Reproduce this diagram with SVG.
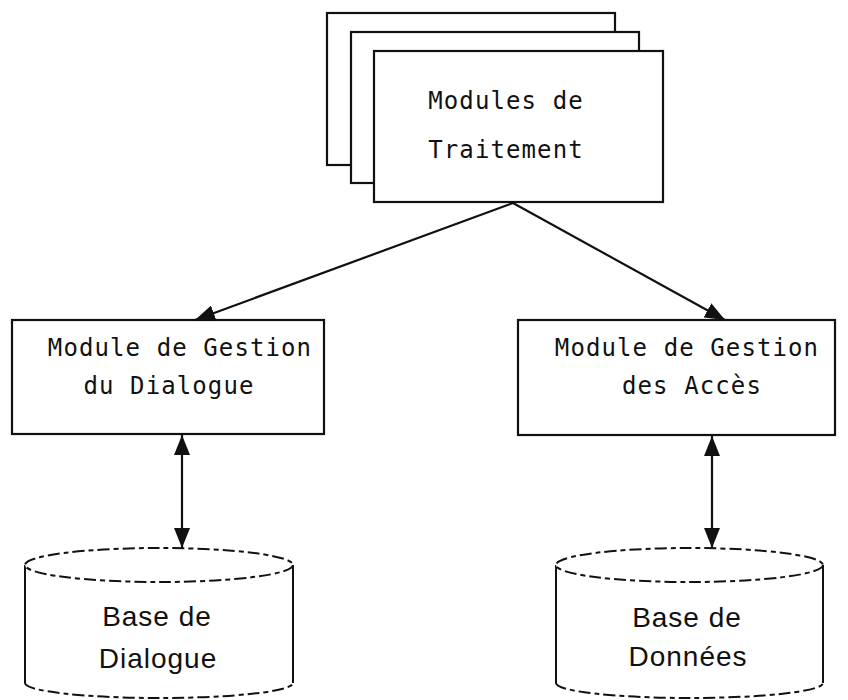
<svg xmlns="http://www.w3.org/2000/svg" width="848" height="700" viewBox="0 0 848 700">
<style>
.box{fill:#fff;stroke:#111;stroke-width:2.2}
.mono{font-family:"DejaVu Sans Mono","Liberation Mono",monospace;font-size:24px;letter-spacing:1.1px;fill:#111;text-anchor:middle}
.sans{font-family:"Liberation Sans","DejaVu Sans",sans-serif;font-size:28px;fill:#111;text-anchor:middle;letter-spacing:1px}
.dash{fill:#fff;stroke:#111;stroke-width:2;stroke-dasharray:12 4 5 4}
.side{fill:none;stroke:#111;stroke-width:2}
.conn{fill:none;stroke:#111;stroke-width:2.2}
</style>
<defs>
<marker id="ah" viewBox="0 0 20 16" refX="20" refY="8" markerWidth="20" markerHeight="16" markerUnits="userSpaceOnUse" orient="auto-start-reverse">
<path d="M0,0 L20,8 L0,16 Z" fill="#111"/>
</marker>
</defs>
<rect width="848" height="700" fill="#fff"/>
<g id="modules-traitement">
<rect class="box" x="327" y="13" width="288" height="152"/>
<rect class="box" x="351" y="32" width="288" height="151"/>
<rect class="box" x="374" y="51" width="289" height="151"/>
<text class="mono" x="506" y="109">Modules de</text>
<text class="mono" x="506" y="158">Traitement</text>
</g>
<g id="gestion-dialogue">
<rect class="box" x="12" y="320" width="312" height="114"/>
<text class="mono" x="180" y="356">Module de Gestion</text>
<text class="mono" x="169" y="394">du Dialogue</text>
</g>
<g id="gestion-acces">
<rect class="box" x="518" y="320" width="317" height="115"/>
<text class="mono" x="687" y="356">Module de Gestion</text>
<text class="mono" x="692" y="394">des Accès</text>
</g>
<g id="base-dialogue">
<path class="side" d="M25,565 L25,683 M293,565 L293,683"/>
<path class="dash" d="M25,683 A134,15 0 0 0 293,683" style="fill:none"/>
<ellipse class="dash" cx="159" cy="565" rx="134" ry="17"/>
<text class="sans" x="157" y="626">Base de</text>
<text class="sans" x="158" y="668">Dialogue</text>
</g>
<g id="base-donnees">
<path class="side" d="M556,565 L556,683 M823,565 L823,683"/>
<path class="dash" d="M556,683 A133.5,15 0 0 0 823,683" style="fill:none"/>
<ellipse class="dash" cx="689.5" cy="565" rx="133.5" ry="17"/>
<text class="sans" x="687" y="627">Base de</text>
<text class="sans" x="688" y="666">Données</text>
</g>
<g id="connectors">
<line class="conn" x1="513" y1="203" x2="195" y2="320" marker-end="url(#ah)"/>
<line class="conn" x1="513" y1="203" x2="725" y2="320" marker-end="url(#ah)"/>
<line class="conn" x1="182" y1="435" x2="182" y2="548" marker-start="url(#ah)" marker-end="url(#ah)"/>
<line class="conn" x1="712" y1="436" x2="712" y2="548" marker-start="url(#ah)" marker-end="url(#ah)"/>
</g>
</svg>
